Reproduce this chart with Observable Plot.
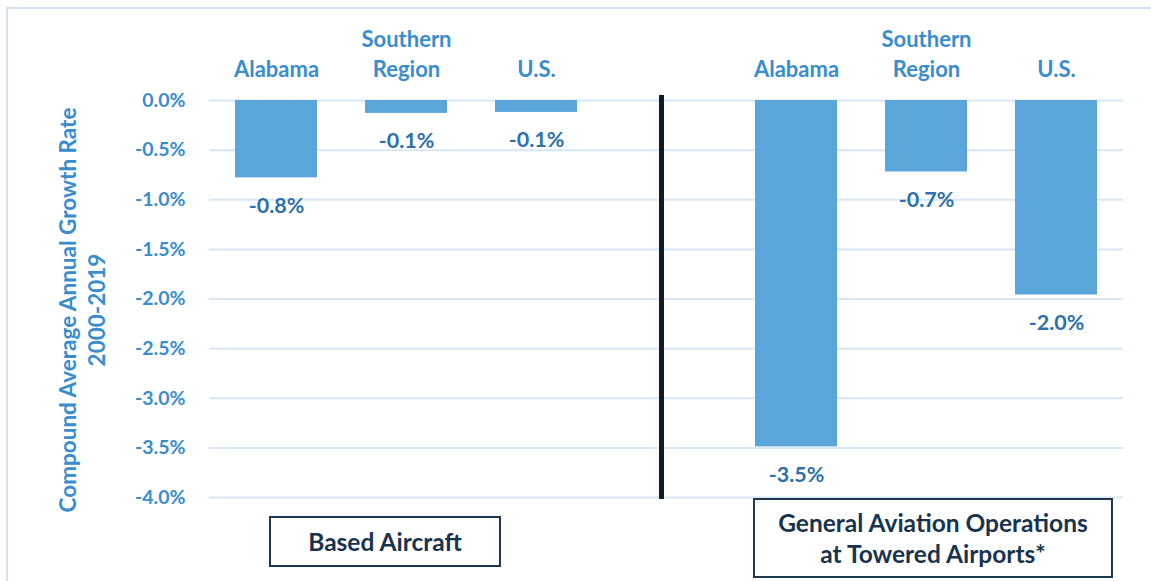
<!DOCTYPE html>
<html>
<head>
<meta charset="utf-8">
<script src="https://cdn.jsdelivr.net/npm/d3@7"></script>
<script src="https://cdn.jsdelivr.net/npm/@observablehq/plot@0.6"></script>
<style>
  html, body { margin: 0; padding: 0; background: #fff; overflow: hidden; }
  #wrap { position: relative; width: 1151px; height: 581px; font-family: Lato, "Open Sans", sans-serif; }
  #frame { position: absolute; left: 6px; top: 7px; width: 1200px; height: 640px; border: 2px solid #d4e5f4; box-sizing: border-box; pointer-events: none; }
  .box { position: absolute; border: 2px solid #1d3850; box-sizing: border-box; color: #18344d; font-weight: 700; font-size: 24.5px; line-height: 31px; text-align: center; display: flex; align-items: center; justify-content: center; background: #fff; }
  #chart { position: absolute; left: 0; top: 0; }
</style>
</head>
<body>
<div id="wrap">
  <div id="chart"></div>
  <div id="frame"></div>
</div>
<script>
// ---- data ----
const categories = ["Alabama", "Southern Region", "U.S."];
const basedAircraft = [-0.78, -0.13, -0.12];
const gaOperations = [-3.49, -0.72, -1.96];
const panelTitles = ["Based Aircraft", "General Aviation Operations\nat Towered Airports*"];
const yTicks = [0, -0.5, -1.0, -1.5, -2.0, -2.5, -3.0, -3.5, -4.0];
const yTitle = "Compound Average Annual Growth Rate\n2000-2019";

// ---- build table ----
const rows = [];
categories.forEach((c, i) => rows.push({key: "BA|" + c, label: c, value: basedAircraft[i]}));
categories.forEach((c, i) => rows.push({key: "GA|" + c, label: c, value: gaOperations[i]}));
const domain = [...rows.slice(0, 3).map(d => d.key), "divider", ...rows.slice(3).map(d => d.key)];

const lightBlue = "#3a8dcd";
const font = "Lato, 'Open Sans', sans-serif";

const plot = Plot.plot({
  width: 1151,
  height: 581,
  marginLeft: 209,
  marginRight: 28,
  marginTop: 100,
  marginBottom: 84,
  style: {background: "transparent", fontFamily: font},
  x: {type: "band", domain, paddingInner: 0.372, paddingOuter: 0.186, axis: null},
  y: {domain: [-4, 0], axis: null},
  marks: [
    Plot.ruleY(yTicks, {stroke: "#d8e7f5", strokeWidth: 2}),
    Plot.barY(rows, {x: "key", y1: 0, y2: "value", fill: "#5aa5d9"}),
    Plot.ruleX(["divider"], {x: d => d, y1: 0, y2: -4, stroke: "#0f1c26", strokeWidth: 5, insetTop: -5, insetBottom: -2, dx: -5}),
    // value labels
    Plot.text(rows, {x: "key", y: "value", text: d => d.value.toFixed(1) + "%", dy: 28,
      fill: "#2e70a9", fontSize: 21.5, fontWeight: 700, lineAnchor: "middle"}),
    // category labels on top
    Plot.text(rows, {x: "key", frameAnchor: "top", text: d => d.label.replace(" ", "\n"),
      lineAnchor: "bottom", dy: -24, lineHeight: 1.32, fill: lightBlue, fontSize: 22, fontWeight: 700}),
    // y tick labels
    Plot.text(yTicks, {y: d => d, frameAnchor: "left", text: d => d.toFixed(1) + "%", textAnchor: "end",
      dx: -24, fill: lightBlue, fontSize: 19.5, fontWeight: 700, lineAnchor: "middle"}),
    // y title
    Plot.text([yTitle], {frameAnchor: "left", rotate: -90, dx: -128, dy: 11, lineAnchor: "middle", textAnchor: "middle",
      lineHeight: 1.25, fill: lightBlue, fontSize: 22.5, fontWeight: 700})
  ]
});
document.getElementById("chart").appendChild(plot);

// panel title boxes
const boxSpecs = [
  {left: 269, top: 516, width: 232, height: 51},
  {left: 753, top: 498, width: 360, height: 80}
];
panelTitles.forEach((t, i) => {
  const b = document.createElement("div");
  b.className = "box";
  const s = boxSpecs[i];
  Object.assign(b.style, {left: s.left + "px", top: s.top + "px", width: s.width + "px", height: s.height + "px"});
  b.innerHTML = t.split("\n").join("<br>");
  document.getElementById("wrap").appendChild(b);
});
</script>
</body>
</html>
